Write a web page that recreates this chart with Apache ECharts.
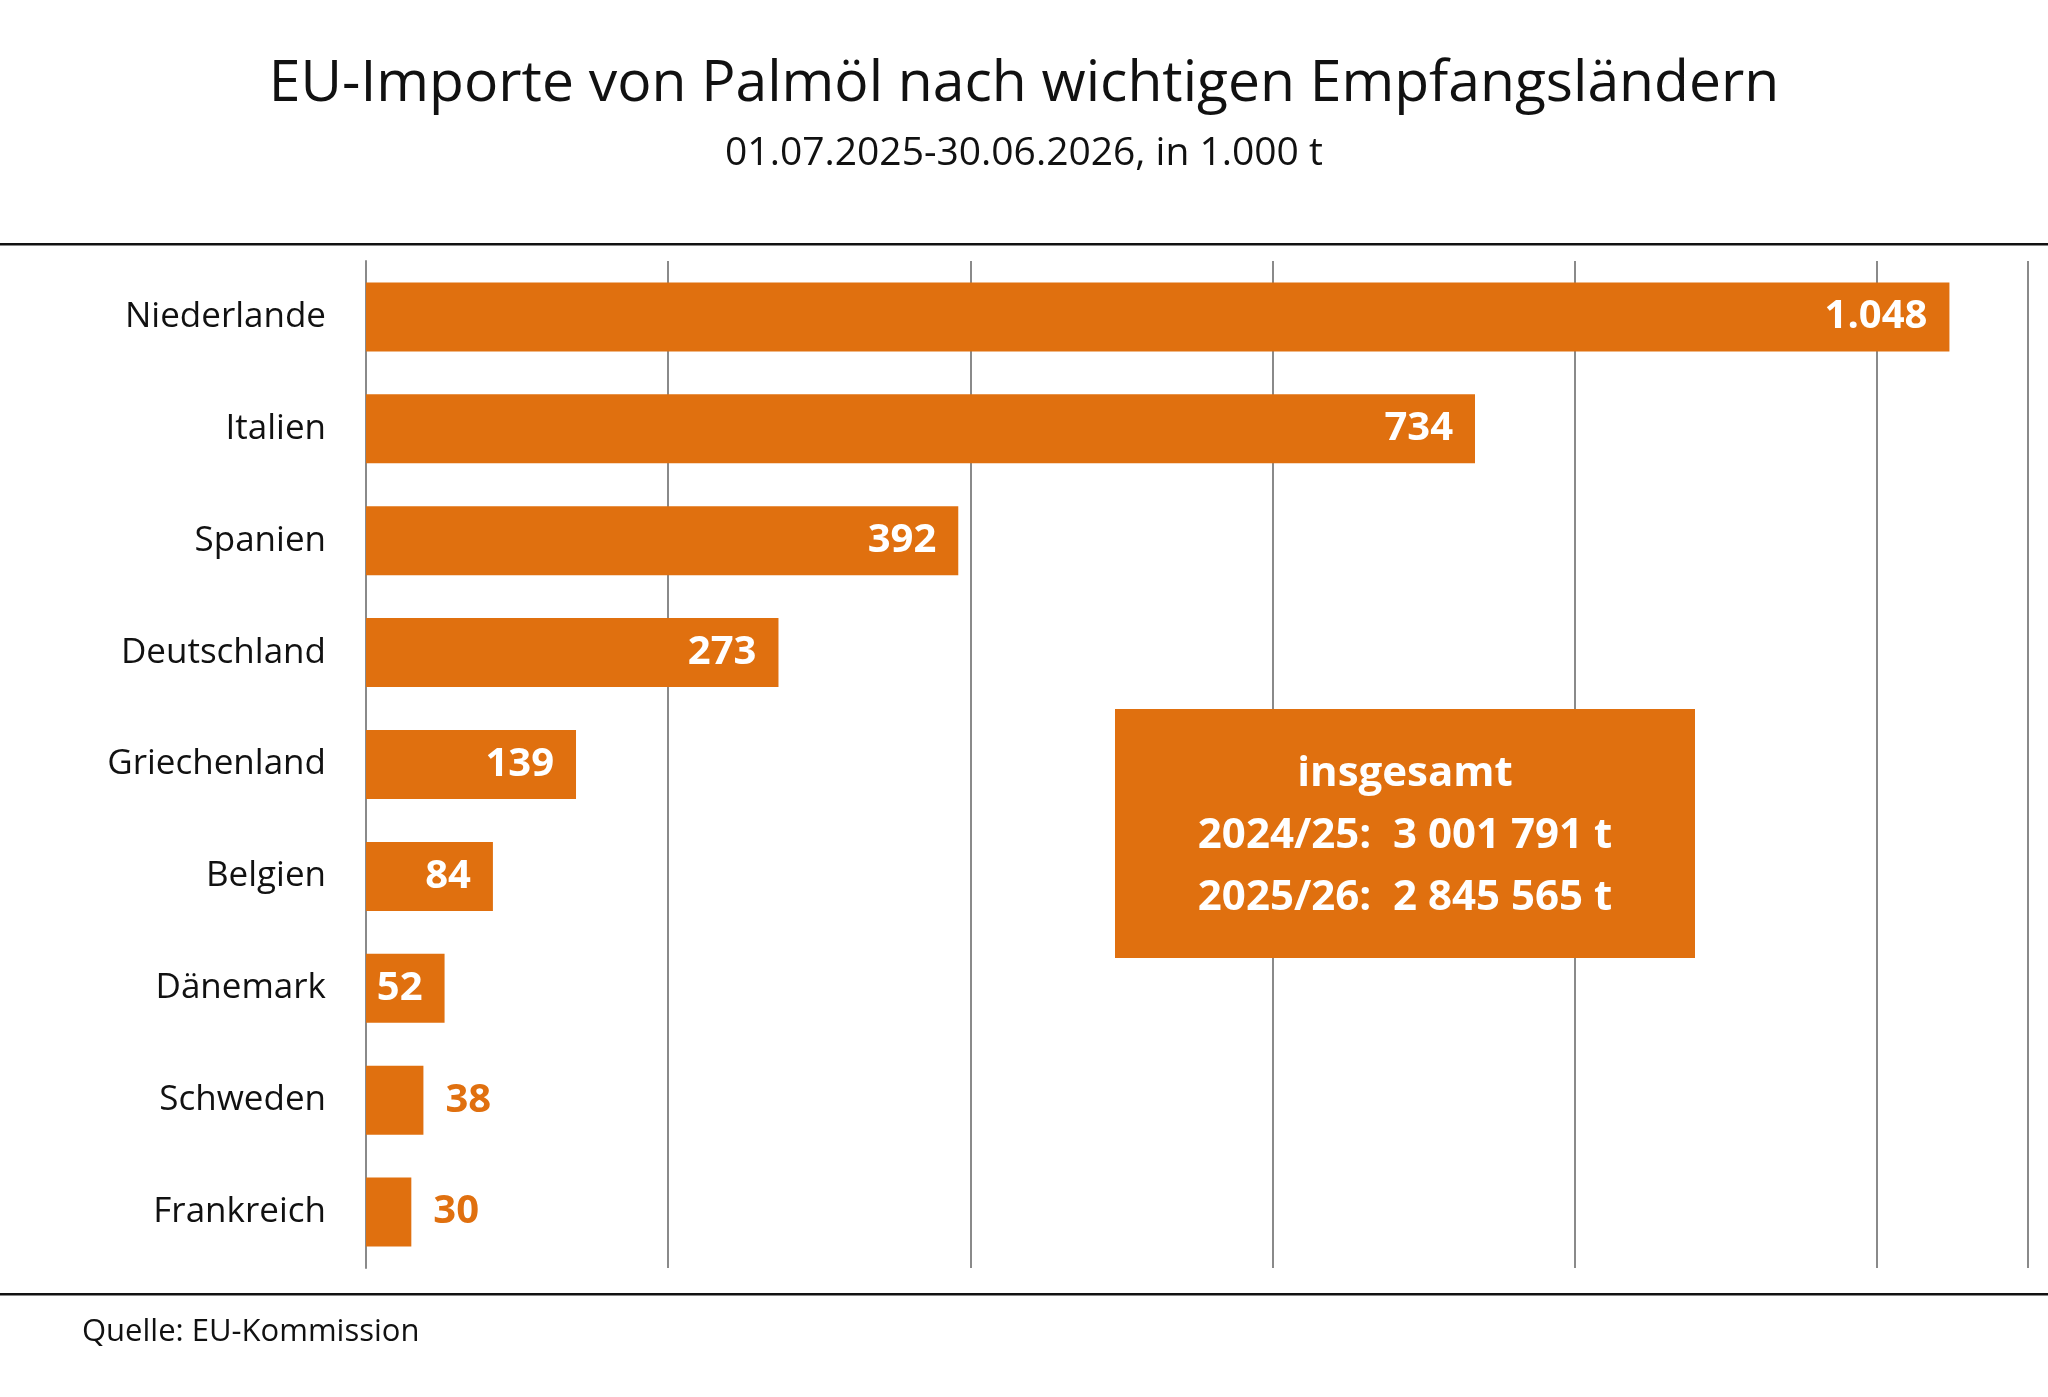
<!DOCTYPE html>
<html><head><meta charset="utf-8">
<script src="https://cdn.jsdelivr.net/npm/echarts@6/dist/echarts.min.js"></script>
<style>html,body{margin:0;background:#fff}#chart{width:2048px;height:1397px}</style>
</head><body><div id="chart"></div>
<script>
// data
var countries = ['Niederlande','Italien','Spanien','Deutschland','Griechenland','Belgien','Dänemark','Schweden','Frankreich'];
var imports = [1048, 734, 392, 273, 139, 84, 52, 38, 30];
var totals = ['insgesamt', '2024/25:  3 001 791 t', '2025/26:  2 845 565 t'];

var orange = '#E0700F';
var font = '"Open Sans", "Noto Sans", sans-serif';

function fmt(v){ return v >= 1000 ? Math.floor(v/1000) + '.' + String(v%1000).padStart(3,'0') : String(v); }

var chart = echarts.init(document.getElementById('chart'));
chart.setOption({
  animation: false,
  textStyle: { fontFamily: font },
  grid: { left: 366, right: 20, top: 261, bottom: 129 },
  xAxis: {
    type: 'value', min: 0, max: 1100, interval: 200,
    axisLabel: { show: false }, axisTick: { show: false },
    splitLine: { show: true, lineStyle: { color: '#8a8a8a', width: 2 } },
    axisLine: { show: false }
  },
  yAxis: {
    type: 'category', inverse: true, data: countries,
    axisTick: { show: false },
    axisLine: { show: true, lineStyle: { color: '#8a8a8a', width: 2 } },
    axisLabel: { color: '#111', fontSize: 35, margin: 40, fontFamily: font }
  },
  series: [{
    type: 'bar', barWidth: 69, itemStyle: { color: orange },
    data: imports.map(function(v){
      var inside = v >= 50;
      return { value: v, label: {
        show: true, position: inside ? 'insideRight' : 'right', distance: inside ? 22 : 22,
        color: inside ? '#fff' : orange, fontWeight: 'bold', fontSize: 40, fontFamily: font,
        formatter: function(p){ return fmt(p.value); }
      }};
    })
  }],
  graphic: [
    { type: 'text', left: 'center', top: 56, style: { text: 'EU-Importe von Palmöl nach wichtigen Empfangsländern', fontSize: 57, fill: '#111', fontFamily: font } },
    { type: 'text', left: 'center', top: 134, style: { text: '01.07.2025-30.06.2026, in 1.000 t', fontSize: 39, fill: '#111', fontFamily: font } },
    { type: 'rect', shape: { x: 0, y: 243, width: 2048, height: 2.5 }, style: { fill: '#111' } },
    { type: 'rect', shape: { x: 0, y: 1293, width: 2048, height: 2.5 }, style: { fill: '#111' } },
    { type: 'text', left: 82, top: 1317, style: { text: 'Quelle: EU-Kommission', fontSize: 31, fill: '#111', fontFamily: font } },
    { type: 'rect', z: 10, shape: { x: 1115, y: 709, width: 580, height: 249 }, style: { fill: orange } },
    { type: 'text', z: 11, x: 1405, y: 774, style: { text: totals[0], fontSize: 42, fontWeight: 'bold', fill: '#fff', align: 'center', verticalAlign: 'middle', fontFamily: font } },
    { type: 'text', z: 11, x: 1405, y: 836, style: { text: totals[1], fontSize: 42, fontWeight: 'bold', fill: '#fff', align: 'center', verticalAlign: 'middle', fontFamily: font } },
    { type: 'text', z: 11, x: 1405, y: 898, style: { text: totals[2], fontSize: 42, fontWeight: 'bold', fill: '#fff', align: 'center', verticalAlign: 'middle', fontFamily: font } }
  ]
});
</script></body></html>
